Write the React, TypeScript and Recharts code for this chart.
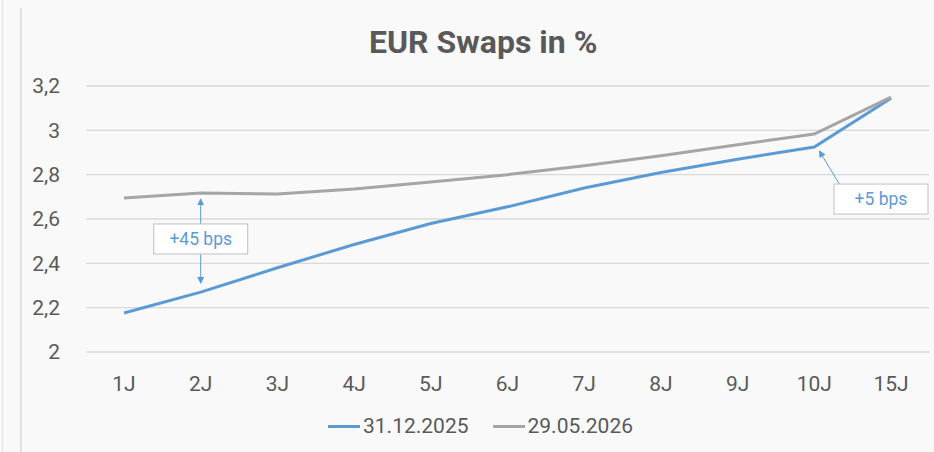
import React from 'react';
import { LineChart, Line, XAxis, YAxis, CartesianGrid, Legend, ReferenceLine, ReferenceDot } from 'recharts';

const tenors = ['1J', '2J', '3J', '4J', '5J', '6J', '7J', '8J', '9J', '10J', '15J'];
const swaps2025 = [2.176, 2.27, 2.38, 2.485, 2.58, 2.655, 2.74, 2.81, 2.87, 2.925, 3.145];
const swaps2026 = [2.695, 2.717, 2.713, 2.735, 2.767, 2.8, 2.84, 2.885, 2.935, 2.983, 3.15];
const yTicks = [2, 2.2, 2.4, 2.6, 2.8, 3, 3.2];
const seriesNames = ['31.12.2025', '29.05.2026'];

const BLUE = '#5b9bd5';
const GRAY = '#a5a5a5';
const TEXT = '#595959';
const FONT = 'Roboto, "Noto Sans", sans-serif';

const data = tenors.map((t, i) => ({ tenor: t, a: swaps2025[i], b: swaps2026[i] }));

const Arrow = (props: any) => (
  <line x1={props.x1} y1={props.y1} x2={props.x2} y2={props.y2} stroke={BLUE} strokeWidth={1} markerEnd="url(#arrowHead)" />
);

const Box = ({ cx, cy, label, dx = 0 }: any) => (
  <g>
    <rect x={cx + dx - 47} y={cy - 15} width={94} height={30} fill="#ffffff" stroke="#bfbfbf" strokeWidth={1} />
    <text x={cx + dx} y={cy + 6} textAnchor="middle" fontSize={17.5} fill={BLUE} fontFamily={FONT}>{label}</text>
  </g>
);

const LegendContent = () => (
  <div style={{ display: 'flex', justifyContent: 'center', gap: 24, fontFamily: FONT, fontSize: 21, color: TEXT, paddingLeft: 32 }}>
    {seriesNames.map((n, i) => (
      <span key={n} style={{ display: 'flex', alignItems: 'center' }}>
        <span style={{ display: 'inline-block', width: 32, height: 3, background: i === 0 ? BLUE : GRAY, marginRight: 3 }} />
        {n}
      </span>
    ))}
  </div>
);

export default function App() {
  return (
    <div style={{ position: 'absolute', left: 0, top: 0, width: 934, height: 452, background: '#f9f9f9', overflow: 'hidden' }}>
      <div style={{ position: 'absolute', left: 2, top: 0, width: 1, height: 452, background: '#e2e2e2' }} />
      <div style={{ position: 'absolute', left: 20, top: 8, width: 2, height: 444, background: '#e2e2e2' }} />
      <div style={{ position: 'absolute', left: 369, top: 23, fontFamily: FONT, fontSize: 32, fontWeight: 'bold', color: TEXT, whiteSpace: 'nowrap', lineHeight: 'normal' }}>
        EUR Swaps in %
      </div>
      <LineChart width={934} height={452} data={data} margin={{ top: 86, right: 5, left: 0, bottom: 0 }}>
        <defs>
          <marker id="arrowHead" viewBox="0 0 10 10" refX="9" refY="5" markerWidth="7" markerHeight="7" orient="auto-start-reverse">
            <path d="M0,0 L10,5 L0,10 z" fill={BLUE} />
          </marker>
        </defs>
        <CartesianGrid vertical={false} stroke="#d9d9d9" strokeWidth={1.3} />
        <XAxis dataKey="tenor" axisLine={false} tickLine={false} tickMargin={18} height={50} padding={{ left: 38, right: 38 }}
          tick={{ fontSize: 21, fill: TEXT, fontFamily: FONT }} />
        <YAxis domain={[2, 3.2]} ticks={yTicks} axisLine={false} tickLine={false} width={86} tickMargin={20}
          tickFormatter={(v: number) => String(v).replace('.', ',')}
          tick={{ fontSize: 21, fill: TEXT, fontFamily: FONT }} />
        <Legend verticalAlign="bottom" height={50} wrapperStyle={{ top: 414 }} content={<LegendContent />} />
        <Line dataKey="a" name={seriesNames[0]} stroke={BLUE} strokeWidth={3} dot={false} isAnimationActive={false} />
        <Line dataKey="b" name={seriesNames[1]} stroke={GRAY} strokeWidth={3} dot={false} isAnimationActive={false} />
        <ReferenceLine segment={[{ x: '2J', y: 2.577 }, { x: '2J', y: 2.69 }]} shape={Arrow} />
        <ReferenceLine segment={[{ x: '2J', y: 2.44 }, { x: '2J', y: 2.31 }]} shape={Arrow} />
        <ReferenceDot x="2J" y={2.51} r={0} shape={(p: any) => <Box {...p} label="+45 bps" />} />
        <ReferenceDot x="10J" y={swaps2025[9]} r={0}
          shape={(p: any) => <Arrow x1={p.cx + 25} y1={p.cy + 37} x2={p.cx + 5} y2={p.cy + 4} />} />
        <ReferenceDot x="15J" y={2.69} r={0} shape={(p: any) => <Box {...p} dx={-10} label="+5 bps" />} />
      </LineChart>
    </div>
  );
}
